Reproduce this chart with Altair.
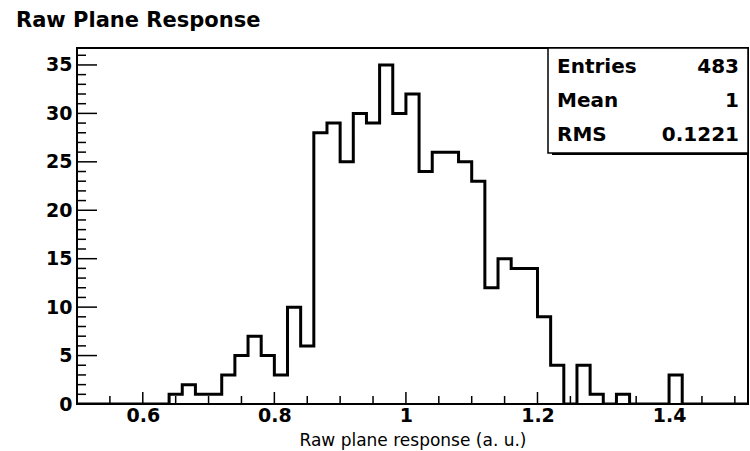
import altair as alt
import pandas as pd

# Histogram: lower bin edges (bin width 0.02) and entries per bin
bin_low = [0.50, 0.52, 0.54, 0.56, 0.58, 0.60, 0.62, 0.64, 0.66, 0.68,
           0.70, 0.72, 0.74, 0.76, 0.78, 0.80, 0.82, 0.84, 0.86, 0.88,
           0.90, 0.92, 0.94, 0.96, 0.98, 1.00, 1.02, 1.04, 1.06, 1.08,
           1.10, 1.12, 1.14, 1.16, 1.18, 1.20, 1.22, 1.24, 1.26, 1.28,
           1.30, 1.32, 1.34, 1.36, 1.38, 1.40, 1.42, 1.44, 1.46, 1.48,
           1.50]
counts = [0, 0, 0, 0, 0, 0, 0, 1, 2, 1,
          1, 3, 5, 7, 5, 3, 10, 6, 28, 29,
          25, 30, 29, 35, 30, 32, 24, 26, 26, 25,
          23, 12, 15, 14, 14, 9, 4, 0, 4, 1,
          0, 1, 0, 0, 0, 3, 0, 0, 0, 0,
          0]
x_upper = 1.52

x_range = [0.50, 1.52]
y_range = [0, 36.75]

x_label_values = [0.6, 0.8, 1.0, 1.2, 1.4]
x_minor_ticks = [0.55, 0.65, 0.70, 0.75, 0.85, 0.90, 0.95, 1.05, 1.10,
                 1.15, 1.25, 1.30, 1.35, 1.45, 1.50]
y_label_values = [0, 5, 10, 15, 20, 25, 30, 35]
y_minor_ticks = [1, 2, 3, 4, 6, 7, 8, 9, 11, 12, 13, 14, 16, 17, 18, 19,
                 21, 22, 23, 24, 26, 27, 28, 29, 31, 32, 33, 34, 36]

stat_names = ["Entries", "Mean", "RMS"]
stat_values = ["483", "1", "0.1221"]

title_text = "Raw Plane Response"
x_title = "Raw plane response (a. u.)"

FONT = "DejaVu Sans"
W, H = 671, 356

xs = alt.Scale(domain=x_range, nice=False, zero=False)
ys = alt.Scale(domain=y_range, nice=False, zero=False)

x_axis = alt.Axis(
    values=x_label_values, format="~g", ticks=False, domain=False,
    grid=False, labelFont=FONT, labelFontWeight="bold", labelFontSize=19,
    labelColor="black", labelPadding=2, labelFlush=False,
    labelOverlap=False, title=x_title, titleFont=FONT,
    titleFontWeight="normal", titleFontSize=17, titleColor="black",
    titleY=41, titleBaseline="alphabetic")
y_axis = alt.Axis(
    values=y_label_values, ticks=False, domain=False, grid=False,
    labelFont=FONT, labelFontWeight="bold", labelFontSize=19,
    labelColor="black", labelPadding=5, labelFlush=False,
    labelOverlap=False, title=None)

# step outline closed at the upper end of the range
hist = pd.DataFrame({"x": bin_low + [x_upper], "n": counts + [0]})

outline = alt.Chart(hist).mark_line(
    interpolate="step-after", color="black", strokeWidth=3,
    strokeJoin="miter", clip=True
).encode(
    x=alt.X("x:Q", scale=xs, axis=x_axis),
    y=alt.Y("n:Q", scale=ys, axis=y_axis),
)

# inward ticks along the bottom and left edges
def x_ticks(values, length):
    return alt.Chart(pd.DataFrame({"x": values})).mark_rule(
        color="black", strokeWidth=1.5
    ).encode(
        x=alt.X("x:Q", scale=xs, axis=x_axis),
        y=alt.value(H), y2=alt.value(H - length),
    )

def y_ticks(values, length):
    return alt.Chart(pd.DataFrame({"n": values})).mark_rule(
        color="black", strokeWidth=1.5
    ).encode(
        y=alt.Y("n:Q", scale=ys, axis=y_axis),
        x=alt.value(0), x2=alt.value(length),
    )

ticks = [
    x_ticks(x_minor_ticks, 8), x_ticks(x_label_values, 12),
    y_ticks(y_minor_ticks, 9), y_ticks(y_label_values, 20),
]

# statistics box in the upper right corner
one = pd.DataFrame({"k": [0]})
box_shadow = alt.Chart(one).mark_rect(color="black").encode(
    x=alt.value(475), x2=alt.value(W), y=alt.value(4), y2=alt.value(107)
)
box = alt.Chart(one).mark_rect(
    fill="white", stroke="black", strokeWidth=1.5
).encode(x=alt.value(471), x2=alt.value(W), y=alt.value(0), y2=alt.value(105))

stat_layers = []
for i, (name, value) in enumerate(zip(stat_names, stat_values)):
    row = alt.Chart(pd.DataFrame({"name": [name], "value": [value]}))
    ypos = 19 + 34 * i
    stat_layers.append(row.mark_text(
        align="left", baseline="middle", font=FONT, fontWeight="bold",
        fontSize=20, color="black"
    ).encode(x=alt.value(480), y=alt.value(ypos), text="name:N"))
    stat_layers.append(row.mark_text(
        align="right", baseline="middle", font=FONT, fontWeight="bold",
        fontSize=20, color="black"
    ).encode(x=alt.value(662), y=alt.value(ypos), text="value:N"))

title = alt.Chart(pd.DataFrame({"t": [title_text]})).mark_text(
    align="left", baseline="alphabetic", font=FONT, fontWeight="bold",
    fontSize=21, color="black"
).encode(x=alt.value(-61), y=alt.value(-21), text="t:N")

chart = alt.layer(
    outline, *ticks, box_shadow, box, *stat_layers, title
).properties(
    width=W, height=H,
    autosize=alt.AutoSizeParams(type="none"),
    padding={"left": 77, "top": 48, "right": 2, "bottom": 47},
    background="white",
).configure_view(stroke="black", strokeWidth=2)

chart.save("out.html", embed_options={"renderer": "svg", "actions": False})
